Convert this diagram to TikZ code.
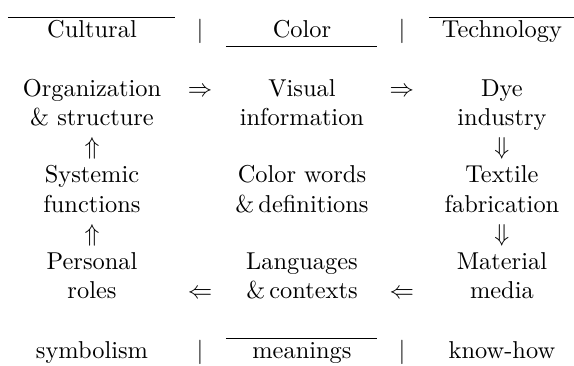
\documentclass[tikz,border=0pt]{standalone}
\begin{document}
\begin{tikzpicture}[
  cell/.style={anchor=base, inner sep=0pt, align=center},
  bar/.style={line width=0.4pt}
]
\useasboundingbox (0,0) rectangle (8.267,-5.258);

% head and foot
\foreach \x/\t/\n in {1.325/Cultural/hA, 4.349/Color/hB, 7.229/Technology/hC}
	\node[cell] (\n) at (\x,-0.543) {\t};
\foreach \x/\t/\n in {1.325/symbolism/fA, 4.349/meanings/fB, 7.229/know-how/fC}
	\node[cell] (\n) at (\x,-5.162) {\t};
\foreach \x/\n in {2.88/A, 5.789/B}
{
	\node[cell] (top\n) at (\x,-0.543) {$|$};
	\node[cell] (bot\n) at (\x,-5.162) {$|$};
}

\draw[bar] (0.115,-0.255) -- (2.52,-0.255);
\draw[bar] (3.254,-0.672) -- (5.429,-0.672);
\draw[bar] (6.178,-0.255) -- (8.267,-0.255);
\draw[bar] (3.254,-4.882) -- (5.429,-4.882);

% the three columns (base = last line)
\node[cell] (org) at (1.325,-1.809) {Organization\\\& structure};
\node[cell] (sys) at (1.325,-3.057) {Systemic\\functions};
\node[cell] (per) at (1.325,-4.305) {Personal\\roles};

\node[cell] (vis) at (4.349,-1.809) {Visual\\information};
\node[cell] (wor) at (4.349,-3.057) {Color words\\\&\,definitions};
\node[cell] (lan) at (4.349,-4.305) {Languages\\\&\,contexts};

\node[cell] (dye) at (7.229,-1.809) {Dye\\industry};
\node[cell] (tex) at (7.229,-3.057) {Textile\\fabrication};
\node[cell] (mat) at (7.229,-4.305) {Material\\media};

% arrows
\foreach \x/\n in {2.88/A, 5.789/B}
{
	\node[cell] (r\n) at (\x,-1.393) {$\Rightarrow$};
	\node[cell] (l\n) at (\x,-4.305) {$\Leftarrow$};
}
\foreach \y/\n in {-2.225/1, -3.473/2}
{
	\node[cell] (u\n) at (1.325,\y) {$\Uparrow$};
	\node[cell] (d\n) at (7.229,\y) {$\Downarrow$};
}
\end{tikzpicture}
\end{document}
